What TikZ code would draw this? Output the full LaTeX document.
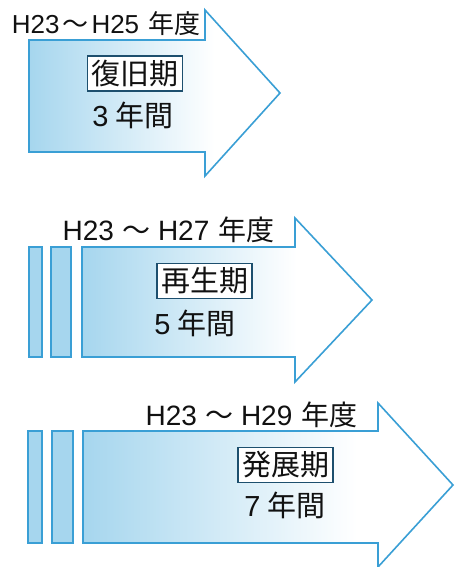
\documentclass[tikz,border=0pt]{standalone}
\usepackage{fontspec}
\setmainfont{Liberation Sans}
\newfontfamily\cjkfont{Noto Sans CJK JP}
\newcommand\jp[1]{{\cjkfont #1}}
\definecolor{lb}{HTML}{A6D6EE}
\definecolor{edge}{HTML}{3A9FD5}
\definecolor{boxedge}{HTML}{1D4F6E}
\definecolor{ink}{HTML}{111111}
\pgfdeclarehorizontalshading{arrowfade}{100bp}{color(0bp)=(lb); color(25bp)=(lb); color(62bp)=(white); color(100bp)=(white)}
\tikzset{
  arrowshape/.style={draw=edge, line width=1.6pt, shading=arrowfade, line join=miter},
  bar/.style={draw=edge, line width=1.6pt, fill=lb},
  header/.style={text=ink, font=\fontsize{28}{30}\selectfont, inner sep=0pt},
  headersmall/.style={text=ink, font=\fontsize{26}{28}\selectfont, inner sep=0pt},
  label/.style={draw=boxedge, line width=1.6pt, fill=white, text=ink, font=\fontsize{29}{31}\selectfont\cjkfont, inner sep=0pt, minimum width=95pt, minimum height=35pt},
  dur/.style={text=ink, font=\fontsize{29}{31}\selectfont, inner sep=0pt}
}
\begin{document}
\begin{tikzpicture}[x=1pt,y=-1pt]
\useasboundingbox (0,0) rectangle (456,567);
% arrow 1
\path[arrowshape] (29,40) -- (205,40) -- (205,10) -- (280,93) -- (205,176) -- (205,152) -- (29,152) -- cycle;
\node[headersmall] (h1) at (106,24) {H23\hspace{3pt}\jp{～}\hspace{3pt}H25\hspace{9pt}\jp{年度}};
\node[label] (b1) at (135,73.5) {復旧期};
\node[dur] (d1) at (133,115) {3\hspace{7pt}\jp{年間}};
% arrow 2
\path[bar] (29,247) rectangle (42,357);
\path[bar] (51,247) rectangle (71,357);
\path[arrowshape] (82,247) -- (295,247) -- (295,218) -- (372,300) -- (295,382) -- (295,357) -- (82,357) -- cycle;
\node[header] (h2) at (168.5,230) {H23\hspace{8pt}\jp{～}\hspace{8pt}H27\hspace{9pt}\jp{年度}};
\node[label] (b2) at (204.5,281) {再生期};
\node[dur] (d2) at (195,323) {5\hspace{7pt}\jp{年間}};
% arrow 3
\path[bar] (28,431) rectangle (42,543);
\path[bar] (52,431) rectangle (73,543);
\path[arrowshape] (83,431) -- (378,431) -- (378,403) -- (453,485) -- (378,567) -- (378,543) -- (83,543) -- cycle;
\node[header] (h3) at (251.5,415) {H23\hspace{8pt}\jp{～}\hspace{8pt}H29\hspace{9pt}\jp{年度}};
\node[label] (b3) at (285.5,465) {発展期};
\node[dur] (d3) at (285,505) {7\hspace{7pt}\jp{年間}};
\end{tikzpicture}
\end{document}
